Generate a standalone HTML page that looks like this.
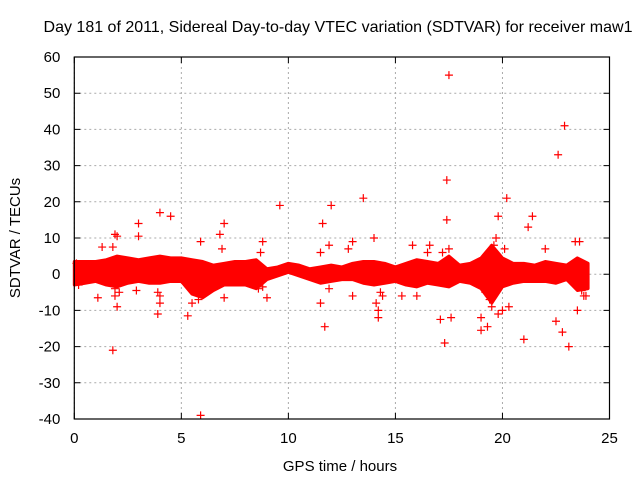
<!DOCTYPE html>
<html><head><meta charset="utf-8"><style>
html,body{margin:0;padding:0;background:#fff;}
svg{display:block;font-family:"Liberation Sans",sans-serif;}
</style></head><body>
<svg id="chart" width="640" height="480">
<text x="338" y="32" font-size="16" text-anchor="middle">Day 181 of 2011, Sidereal Day-to-day VTEC variation (SDTVAR) for receiver maw1</text>
<text x="20" y="238" font-size="15" text-anchor="middle" transform="rotate(-90 20 238)">SDTVAR / TECUs</text>
<text x="340" y="471" font-size="15" text-anchor="middle">GPS time / hours</text>
<g id="grid"></g><g id="ticks"></g><g id="marks"></g>
<rect x="74.3" y="57" width="535.2" height="362" fill="none" stroke="#000" stroke-width="1.2"/>
</svg>
<script>
const xTicks=[0,5,10,15,20,25];
const yTicks=[-40,-30,-20,-10,0,10,20,30,40,50,60];
const bandHours=[0,0.5,1,1.5,2,2.5,3,3.5,4,4.5,5,5.5,6,6.5,7,7.5,8,8.5,9,9.5,10,10.5,11,11.5,12,12.5,13,13.5,14,14.5,15,15.5,16,16.5,17,17.5,18,18.5,19,19.5,20,20.5,21,21.5,22,22.5,23,23.5,24];
const bandUpper=[3.5,3.5,3.5,4,5,4.5,4,4.5,5,4.5,4.5,4,3.5,2.5,3,3.5,3.5,4,1.5,2,3,2.5,1.5,2,2.5,2,3,3.5,3.5,3,2,3,4,3.5,3,5,2.5,3,4.5,8,4.5,3,3,2.5,3.5,3,2.5,4.5,3];
const bandLower=[-3,-2.5,-2,-3,-3.5,-2.5,-2,-2.5,-2.5,-2,-2,-5.5,-6.5,-4.5,-3,-3,-3,-4,-1.5,-0.5,0.5,-0.5,-1.5,-2.5,-2,-1.5,-1.5,-2.5,-3,-2.5,-2,-3,-3.5,-2.5,-3,-3.5,-2,-2.5,-4,-8,-3.5,-2.5,-2,-2,-2,-2.5,-1.5,-4.5,-4];
const outX=[1.8,1.9,2,3,3,4,4.5,3.9,5.3,5.9,5.9,7,7,8.8,9,9.6,11.6,11.7,12,11.5,13,13,13.5,14,14.2,14.2,15.3,15.8,16.6,17.3,17.4,17.5,17.4,17.6,17.1,19,19,19.3,19.7,19.8,20,20.2,20.3,21,21.4,21.2,22,22.6,22.9,22.5,22.8,23.1,23.5,23.9,1.1,1.3,2.9,6.8,16,4,2,1.9,5.5,8.7,11.9,14.1,19.5,19.6,23.6,1.8,1.9,2.1,3.9,4,5.7,5.8,6.9,8.6,8.8,11.5,11.9,12.8,14.3,14.4,16.5,17.2,17.5,19.2,19.4,19.8,20.1,23.4,23.7,23.8,0.1,0.2];
const outY=[-21,11,10.5,10.5,14,17,16,-11,-11.5,-39,9,14,-6.5,9,-6.5,19,14,-14.5,19,-8,9,-6,21,10,-12,-10,-6,8,8,-19,26,55,15,-12,-12.5,-12,-15.5,-14.5,10,16,-10,21,-9,-18,16,13,7,33,41,-13,-16,-20,-10,-6,-6.5,7.5,-4.5,11,-6,-8,-9,-6,-8,6,8,-8,-9,8,9,7.5,-4,-5,-5,-6,-5,-7,7,-4,-3.5,6,-4,7,-5,-6,6,6,7,-5,-7,-11,7,9,-4.5,-6,3,-3];
const svg=document.getElementById('chart'),NS='http://www.w3.org/2000/svg';
const X0=74.3,X1=609.5,Y0=419,Y1=57;
const sx=v=>X0+(v-0)/(25-0)*(X1-X0);
const sy=v=>Y0-(v+40)/(100)*(Y0-Y1);
function mk(t,a,p){const e=document.createElementNS(NS,t);for(const k in a)e.setAttribute(k,a[k]);(p||svg).appendChild(e);return e;}
const grid=document.getElementById('grid'),ticks=document.getElementById('ticks'),marks=document.getElementById('marks');
xTicks.forEach(v=>{
 const g=mk('line',{x1:sx(v),x2:sx(v),y1:Y1,y2:Y0,stroke:'#aaa','stroke-dasharray':'2,3'},grid);
 
 
 const tm=mk('path',{d:`M${sx(v)},${Y0}v-6M${sx(v)},${Y1}v6`,stroke:'#000'},ticks);
 
 
 const t=mk('text',{x:sx(v),y:Y0+24,'font-size':15,'text-anchor':'middle'},ticks);t.textContent=v;
 
 
});
yTicks.forEach(v=>{
 const g=mk('line',{x1:X0,x2:X1,y1:sy(v),y2:sy(v),stroke:'#aaa','stroke-dasharray':'2,3'},grid);
 
 
 const tm=mk('path',{d:`M${X0},${sy(v)}h6M${X1},${sy(v)}h-6`,stroke:'#000'},ticks);
 
 
 const t=mk('text',{x:X0-14,y:sy(v)+5,'font-size':15,'text-anchor':'end'},ticks);t.textContent=v;
 
 
});
let pts=bandHours.map((h,i)=>sx(h)+','+sy(bandUpper[i]));
for(let i=bandHours.length-1;i>=0;i--)pts.push(sx(bandHours[i])+','+sy(bandLower[i]));
const band=mk('polygon',{points:pts.join(' '),fill:'#f00',stroke:'#f00','stroke-width':3,'stroke-linejoin':'round'},marks);


outX.forEach((x,i)=>{
 const cx=sx(x),cy=sy(outY[i]);
 const p=mk('path',{d:`M${cx-4},${cy}H${cx+4}M${cx},${cy-4}V${cy+4}`,stroke:'#f00','stroke-width':1.2},marks);
 
 
});
</script>
</body></html>
